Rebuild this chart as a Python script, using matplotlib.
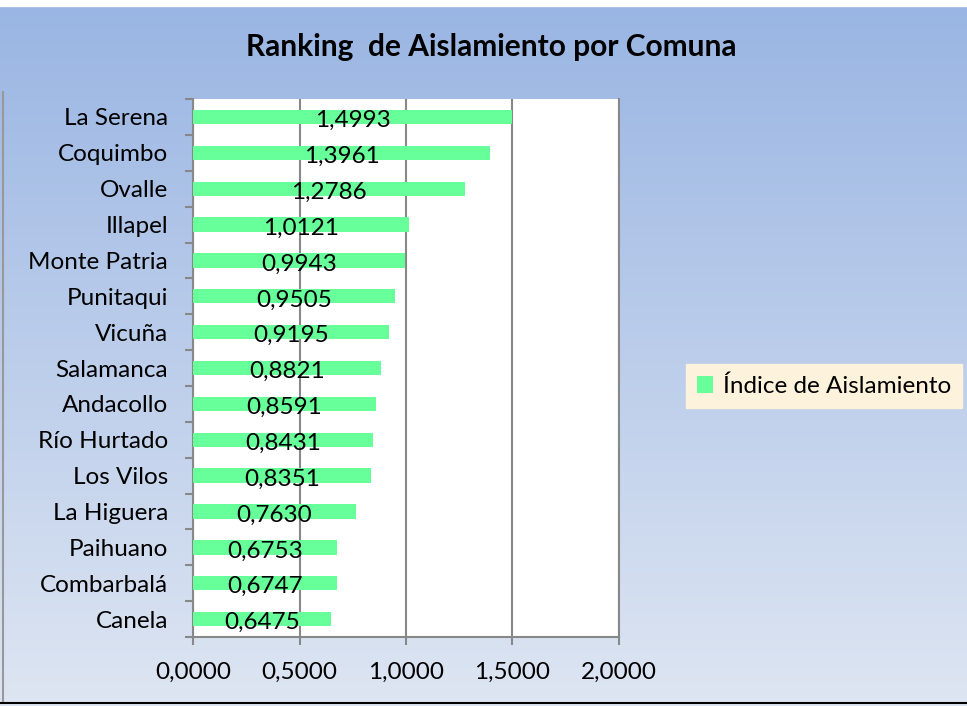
import numpy as np
import matplotlib.pyplot as plt

# ===== Datos =====
comunas = ["La Serena", "Coquimbo", "Ovalle", "Illapel", "Monte Patria",
           "Punitaqui", "Vicuña", "Salamanca", "Andacollo", "Río Hurtado",
           "Los Vilos", "La Higuera", "Paihuano", "Combarbalá", "Canela"]
indice = [1.4993, 1.3961, 1.2786, 1.0121, 0.9943, 0.9505, 0.9195, 0.8821,
          0.8591, 0.8431, 0.8351, 0.7630, 0.6753, 0.6747, 0.6475]
xticks = [0.0, 0.5, 1.0, 1.5, 2.0]

plt.rcParams['font.family'] = ['Lato', 'DejaVu Sans']

def fmt(v):
    return f"{v:.4f}".replace(".", ",")

fig = plt.figure(figsize=(9.67, 7.06), dpi=100)

# ===== Fondo degradado =====
bg = fig.add_axes([0, 0, 1, 1], zorder=-10)
grad = np.linspace(0, 1, 256).reshape(-1, 1)
top = np.array([0.60, 0.71, 0.89])
bot = np.array([0.87, 0.90, 0.95])
img = top + (bot - top) * grad[:, :, None] * np.ones((1, 1, 3))
bg.imshow(img, aspect='auto', extent=[0, 1, 0, 1], origin='upper')
bg.add_patch(plt.Rectangle((0, 0.992), 1, 0.01, color='white', transform=bg.transAxes))
bg.plot([0.003, 0.003], [0.005, 0.87], color='#999999', lw=1.5)
bg.plot([0, 1], [0.004, 0.004], color='black', lw=1.5)
bg.set_xlim(0, 1)
bg.set_ylim(0, 1)
bg.axis('off')

# ===== Gráfico =====
ax = fig.add_axes([0.1996, 0.0977, 0.4405, 0.762])
y = np.arange(len(comunas))
bars = ax.barh(y, indice, height=0.4, color='#66FF99', label='Índice de Aislamiento', zorder=3)
for yi, v in zip(y, indice):
    ax.text(v / 2, yi + 0.1, fmt(v), ha='center', va='center', fontsize=17.5, zorder=4)

ax.set_ylim(len(comunas) - 0.5, -0.5)
ax.set_xlim(0, 2.0)
ax.set_yticks(y)
ax.set_yticklabels(comunas, fontsize=17.5)
ax.set_yticks(np.arange(-0.5, len(comunas)), minor=True)
ax.tick_params(axis='y', which='major', length=0, pad=18)
ax.tick_params(axis='y', which='minor', length=6, color='#888888', width=1.5)
ax.set_xticks(xticks)
ax.set_xticklabels([fmt(t) for t in xticks], fontsize=17.5)
ax.tick_params(axis='x', length=6, color='#888888', width=1.5, pad=12)
ax.grid(axis='x', color='#888888', lw=1.5, zorder=1)
for s in ['left', 'bottom', 'right']:
    ax.spines[s].set_color('#888888')
    ax.spines[s].set_linewidth(1.5)
ax.spines['top'].set_visible(False)

fig.text(0.508, 0.933, "Ranking  de Aislamiento por Comuna", ha='center', va='center',
         fontsize=21.5, fontweight='bold')

leg = fig.legend(handles=[bars], labels=['Índice de Aislamiento'], loc='center',
                 bbox_to_anchor=(0.852, 0.453), fontsize=17.5, frameon=True,
                 fancybox=False, handlelength=0.65, handleheight=0.65, handletextpad=0.4,
                 borderpad=0.45, borderaxespad=0)
leg.get_frame().set_facecolor('#FDF3DC')
leg.get_frame().set_edgecolor('#FDF3DC')
leg.get_frame().set_alpha(1)

fig.savefig("out.png", dpi=100)
